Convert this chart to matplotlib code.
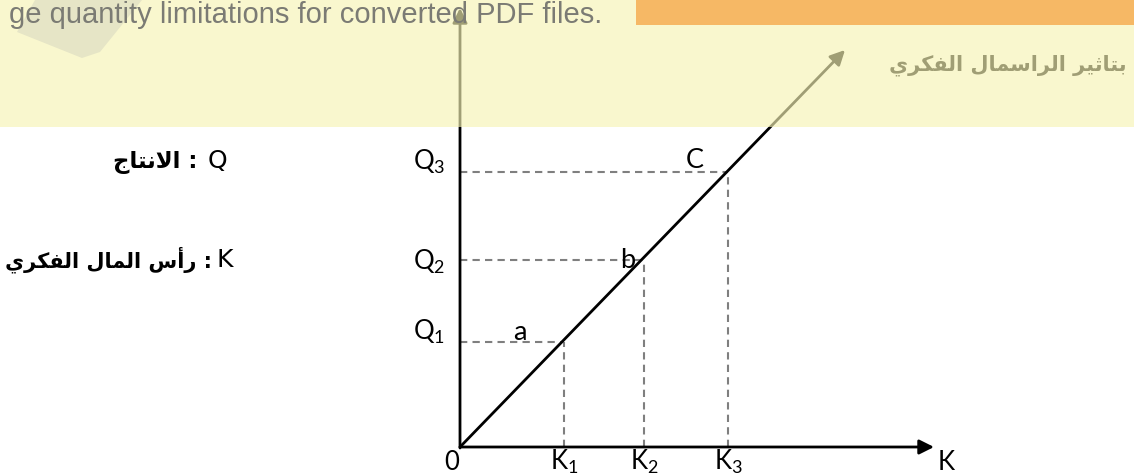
import numpy as np
import matplotlib.pyplot as plt
from matplotlib.patches import Rectangle, Polygon

plt.rcParams['font.family'] = ['Lato', 'DejaVu Sans']

# levels of capital K and output Q at the points a, b, c
k_vals = [1.04, 1.84, 2.68]
q_vals = [1.05, 1.87, 2.75]
k_names = ['K_1', 'K_2', 'K_3']
q_names = ['Q_1', 'Q_2', 'Q_3']
point_names = ['a', 'b', 'C']
# end of the production line and of the two axes
line_end = [3.85, 3.97]
k_axis_end = 4.74
q_axis_end = 4.39

title_ar = 'بتاثير الراسمال الفكري'
q_legend_ar = 'الانتاج'
k_legend_ar = 'رأس المال الفكري'
banner = 'ge quantity limitations for converted PDF files.'

# matplotlib does no arabic shaping -> use presentation forms in visual order
AR_FORMS = {  # isolated, final, initial, medial
    'ا': (0xFE8D, 0xFE8E, None, None),
    'أ': (0xFE83, 0xFE84, None, None),
    'ر': (0xFEAD, 0xFEAE, None, None),
    '\ufefb': (0xFEFB, 0xFEFC, None, None),
    'ب': (0xFE8F, 0xFE90, 0xFE91, 0xFE92),
    'ت': (0xFE95, 0xFE96, 0xFE97, 0xFE98),
    'ث': (0xFE99, 0xFE9A, 0xFE9B, 0xFE9C),
    'ج': (0xFE9D, 0xFE9E, 0xFE9F, 0xFEA0),
    'س': (0xFEB1, 0xFEB2, 0xFEB3, 0xFEB4),
    'ف': (0xFED1, 0xFED2, 0xFED3, 0xFED4),
    'ك': (0xFED9, 0xFEDA, 0xFEDB, 0xFEDC),
    'ل': (0xFEDD, 0xFEDE, 0xFEDF, 0xFEE0),
    'م': (0xFEE1, 0xFEE2, 0xFEE3, 0xFEE4),
    'ن': (0xFEE5, 0xFEE6, 0xFEE7, 0xFEE8),
    'ي': (0xFEF1, 0xFEF2, 0xFEF3, 0xFEF4),
}


def shape(text):
    words = []
    for word in text.split(' '):
        word = word.replace('لا', '\ufefb')
        glyphs = []
        for i, ch in enumerate(word):
            iso, fin, ini, med = AR_FORMS[ch]
            prev_joins = i > 0 and AR_FORMS[word[i - 1]][2] is not None
            next_joins = i < len(word) - 1 and ini is not None
            if prev_joins and next_joins:
                g = med
            elif prev_joins:
                g = fin
            elif next_joins:
                g = ini
            else:
                g = iso
            glyphs.append(chr(g))
        words.append(''.join(reversed(glyphs)))
    return ' '.join(reversed(words))


W, H = 1134, 476
fig = plt.figure(figsize=(W / 100, H / 100), dpi=100)
fig.patch.set_facecolor('white')


def fx(x):
    return x / W


def fy(y):
    return 1 - y / H


ax = fig.add_axes([0, 0, 1, 1])
ox, oy = 460, 447  # origin in pixels
ax.set_xlim(-ox / 100, (W - ox) / 100)
ax.set_ylim(-(H - oy) / 100, oy / 100)
ax.axis('off')

dash = dict(color='#7f7f7f', lw=1.5, ls=(0, (3.5, 2.5)))
for k, q in zip(k_vals, q_vals):
    ax.plot([0, k], [q, q], **dash)
    ax.plot([k, k], [0, q], **dash)

arrow = dict(arrowstyle='-|>', color='black', lw=2, mutation_scale=22,
             shrinkA=0, shrinkB=0)
ax.annotate('', xy=(k_axis_end, 0), xytext=(0, 0), arrowprops=arrow)
ax.annotate('', xy=(0, q_axis_end), xytext=(0, -0.01), arrowprops=arrow)
ax.annotate('', xy=line_end, xytext=(0, 0), arrowprops=arrow)

fs = 18.5
for k, name in zip(k_vals, k_names):
    ax.text(k, -0.23, '$\\mathregular{%s}$' % name, ha='center', va='baseline', fontsize=fs)
q_dy = [0.1, -0.02, 0.1]
for q, name, dy in zip(q_vals, q_names, q_dy):
    ax.text(-0.15, q + dy, '$\\mathregular{%s}$' % name, ha='right', va='center', fontsize=fs)
ax.text(-0.08, -0.23, '0', ha='center', va='baseline', fontsize=fs)
ax.text(4.86, -0.23, 'K', ha='center', va='baseline', fontsize=fs)

pt_off = [(-0.44, 0.1), (-0.16, 0.0), (-0.33, 0.12)]
for k, q, name, (dx, dy) in zip(k_vals, q_vals, point_names, pt_off):
    ax.text(k + dx, q + dy, name, ha='center', va='center', fontsize=fs + 1)

# legend of the symbols, left side
ar = dict(family='DejaVu Sans', weight='bold', va='baseline', ha='right')
fig.text(fx(197), fy(168), shape(q_legend_ar) + ' :', fontsize=16.5, **ar)
fig.text(fx(212), fy(267), shape(k_legend_ar) + ' :', fontsize=15, **ar)
fig.text(fx(227), fy(168), 'Q', family='DejaVu Sans', fontsize=18, ha='right', va='baseline')
fig.text(fx(233), fy(267), 'K', family='DejaVu Sans', fontsize=18, ha='right', va='baseline')

# title under the yellow band
fig.text(fx(1127), fy(70), shape(title_ar), family='DejaVu Sans', weight='bold',
         fontsize=15, ha='right', va='baseline', color='black', zorder=3)

# pdf converter banner on top
fig.patches.append(Rectangle((0, fy(127)), 1, 127 / H, transform=fig.transFigure,
                             fc='#F7F4B5', ec='none', alpha=0.65, zorder=5))
shape_px = [(35, 0), (17, 32), (82, 58), (100, 52), (142, 0)]
fig.patches.append(Polygon([(fx(x), fy(y)) for x, y in shape_px], closed=True,
                           transform=fig.transFigure, fc='#E6E5C6', ec='none', zorder=6))
fig.patches.append(Rectangle((fx(636), fy(25)), 1 - fx(636), 25 / H, transform=fig.transFigure,
                             fc='#F6B865', ec='none', zorder=6))
fig.text(fx(602), fy(23), banner, family='Liberation Sans', fontsize=21,
         color='#7b7b74', ha='right', va='baseline', zorder=7)

fig.savefig('out.png', dpi=100)
